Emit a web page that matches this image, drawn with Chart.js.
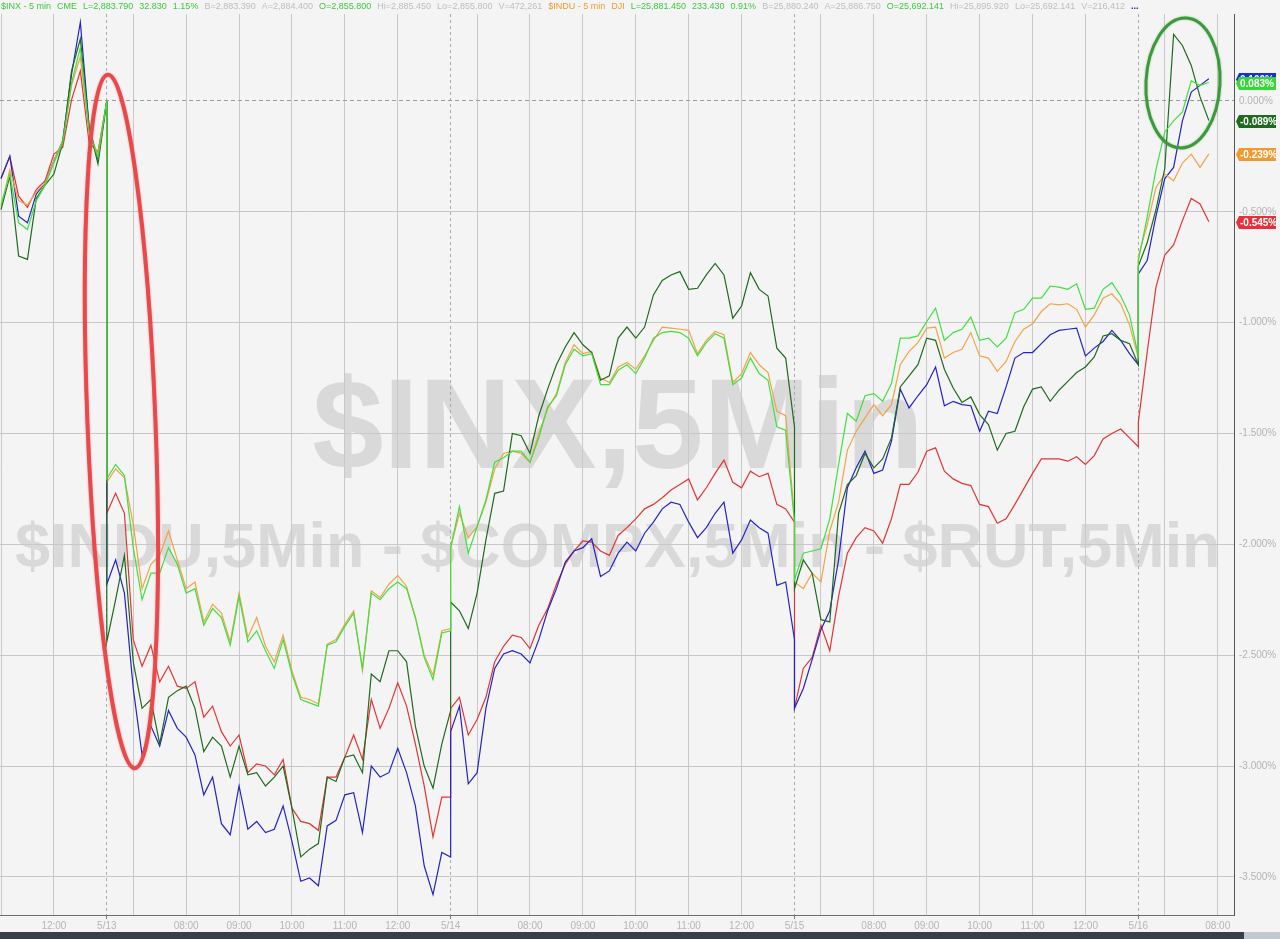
<!DOCTYPE html>
<html>
<head>
<meta charset="utf-8">
<script src="https://cdn.jsdelivr.net/npm/chart.js@4.4.1/dist/chart.umd.min.js"></script>
<style>
  html, body { margin: 0; padding: 0; background: #f4f4f4; }
  #wrap { position: relative; width: 1280px; height: 939px; overflow: hidden; background: #f4f4f4; }
  #chartBox { position: absolute; left: 0; top: 0; width: 1280px; height: 932px; }
  #header { position: absolute; left: 1px; top: 1px; z-index: 2; white-space: nowrap;
            font: 9px "Liberation Sans", Arial, sans-serif; line-height: 10px; }
  #header span { margin-right: 6px; }
  .g { color: #3cc83c; } .gr { color: #bdbdbd; } .o { color: #ef9a2c; } .nv { color: #1d2b8c; font-weight: bold; }
  #scroll { position: absolute; left: 0; top: 932px; width: 1244px; height: 7px; background: #3a3e47; }
  #scroll2 { position: absolute; left: 1244px; top: 932px; width: 36px; height: 7px; background: #c3c7ce; }
</style>
</head>
<body>
<div id="wrap">
  <div id="header">
    <span class="g">$INX - 5 min</span><span class="g">CME</span><span class="g">L=2,883.790</span><span class="g">32.830</span><span class="g">1.15%</span><span class="gr">B=2,883.390</span><span class="gr">A=2,884.400</span><span class="g">O=2,855.800</span><span class="gr">Hi=2,885.450</span><span class="gr">Lo=2,855.800</span><span class="gr">V=472,261</span><span class="o">$INDU - 5 min</span><span class="o">DJI</span><span class="g">L=25,881.450</span><span class="g">233.430</span><span class="g">0.91%</span><span class="gr">B=25,880.240</span><span class="gr">A=25,886.750</span><span class="g">O=25,692.141</span><span class="gr">Hi=25,895.920</span><span class="gr">Lo=25,692.141</span><span class="gr">V=216,412</span><span class="nv">...</span>
  </div>
  <div id="chartBox"><canvas id="chart"></canvas></div>
  <div id="scroll"></div><div id="scroll2"></div>
</div>
<script>
// trading sessions shown (day, first bar, last bar), sampled every 10 minutes
const sessions = [
  ['5/10', '11:00', '13:00'],
  ['5/13', '06:30', '13:00'],
  ['5/14', '06:30', '13:00'],
  ['5/15', '06:30', '13:00'],
  ['5/16', '06:30', '07:50']
];
const hourLabels = ['07:00', '08:00', '09:00', '10:00', '11:00', '12:00'];
const yTicks = [-3.5, -3, -2.5, -2, -1.5, -1, -0.5, 0];

// % change vs 5/10 close
const inx = [
  -0.47, -0.33, -0.55, -0.58, -0.45, -0.38, -0.28, -0.19, 0.08, 0.24, -0.14, -0.255, 0,
  -1.705, -1.64, -1.69, -2.015, -2.25, -2.13, -2.13, -2.015, -2.09, -2.22, -2.20, -2.365, -2.29, -2.33, -2.455, -2.235, -2.44, -2.39, -2.48, -2.56,
  -2.43, -2.585, -2.70, -2.715, -2.73, -2.455, -2.44, -2.37, -2.31, -2.56, -2.22, -2.25, -2.20, -2.17, -2.20, -2.33, -2.51, -2.61, -2.40, -2.39,
  -2.015, -1.83, -2.04, -1.92, -1.80, -1.63, -1.61, -1.58, -1.58, -1.63, -1.52, -1.38, -1.33, -1.19, -1.12, -1.15, -1.14, -1.28, -1.28, -1.215,
  -1.19, -1.23, -1.16, -1.07, -1.045, -1.04, -1.045, -1.07, -1.15, -1.09, -1.05, -1.07, -1.28, -1.25, -1.16, -1.23, -1.26, -1.47, -1.485, -1.90,
  -2.16, -2.04, -2.03, -2.02, -1.885, -1.64, -1.41, -1.445, -1.33, -1.32, -1.355, -1.275, -1.07, -1.07, -1.06, -0.995, -0.935, -1.08, -1.045, -1.03,
  -0.975, -1.08, -1.07, -1.11, -1.07, -0.955, -0.94, -0.89, -0.89, -0.835, -0.84, -0.85, -0.825, -0.94, -0.935, -0.85, -0.82, -0.88, -0.965, -1.15,
  -0.72, -0.525, -0.31, -0.14, -0.09, -0.05, 0.09, 0.07, 0.083
];
const indu = [
  -0.48, -0.31, -0.45, -0.47, -0.41, -0.37, -0.27, -0.18, 0.07, 0.20, -0.15, -0.24, 0,
  -1.72, -1.66, -1.70, -1.91, -2.20, -2.09, -2.05, -1.94, -2.07, -2.20, -2.17, -2.35, -2.27, -2.31, -2.44, -2.22, -2.42, -2.33, -2.46, -2.53,
  -2.41, -2.57, -2.69, -2.70, -2.72, -2.45, -2.43, -2.36, -2.30, -2.57, -2.21, -2.24, -2.18, -2.14, -2.19, -2.33, -2.50, -2.59, -2.39, -2.38,
  -2.015, -1.86, -1.97, -1.92, -1.81, -1.66, -1.59, -1.58, -1.59, -1.63, -1.50, -1.39, -1.32, -1.18, -1.10, -1.14, -1.13, -1.25, -1.27, -1.20,
  -1.18, -1.21, -1.15, -1.08, -1.02, -1.025, -1.03, -1.035, -1.14, -1.08, -1.04, -1.055, -1.27, -1.23, -1.135, -1.19, -1.225, -1.40, -1.42, -1.88,
  -2.17, -2.20, -2.13, -2.17, -1.94, -1.81, -1.575, -1.49, -1.43, -1.37, -1.42, -1.37, -1.19, -1.13, -1.09, -1.025, -1.02, -1.16, -1.135, -1.12,
  -1.045, -1.15, -1.16, -1.22, -1.175, -1.085, -1.03, -1.005, -0.95, -0.915, -0.92, -0.915, -0.94, -1.02, -0.965, -0.89, -0.87, -0.915, -1.01, -1.16,
  -0.70, -0.56, -0.39, -0.33, -0.36, -0.28, -0.24, -0.30, -0.239
];
const compx = [
  -0.35, -0.25, -0.52, -0.55, -0.42, -0.37, -0.27, -0.18, 0.12, 0.355, -0.12, -0.265, 0,
  -2.18, -2.07, -2.22, -2.65, -2.95, -2.82, -2.91, -2.75, -2.83, -2.87, -2.95, -3.13, -3.05, -3.26, -3.31, -3.09, -3.285, -3.25, -3.30, -3.285,
  -3.18, -3.34, -3.52, -3.505, -3.54, -3.27, -3.245, -3.13, -3.12, -3.30, -3.00, -3.05, -3.03, -2.92, -3.03, -3.18, -3.45, -3.58, -3.39, -3.41,
  -2.845, -2.73, -3.08, -3.03, -2.74, -2.56, -2.495, -2.48, -2.495, -2.535, -2.43, -2.30, -2.20, -2.08, -2.03, -2.015, -1.975, -2.145, -2.12, -2.04,
  -1.99, -2.03, -1.95, -1.90, -1.84, -1.81, -1.82, -1.90, -1.97, -1.925, -1.86, -1.81, -2.04, -1.98, -1.89, -1.925, -1.95, -2.185, -2.17, -2.43,
  -2.74, -2.65, -2.52, -2.385, -2.30, -2.07, -1.745, -1.655, -1.58, -1.68, -1.665, -1.535, -1.30, -1.385, -1.33, -1.28, -1.20, -1.375, -1.355, -1.37,
  -1.375, -1.49, -1.40, -1.41, -1.29, -1.16, -1.135, -1.135, -1.095, -1.055, -1.035, -1.03, -1.025, -1.15, -1.115, -1.085, -1.035, -1.08, -1.14, -1.19,
  -0.78, -0.72, -0.52, -0.35, -0.30, -0.09, 0.04, 0.07, 0.10
];
const rut = [
  -0.35, -0.25, -0.43, -0.48, -0.40, -0.36, -0.24, -0.21, 0.005, 0.135, -0.19, -0.23, 0,
  -1.86, -1.77, -1.86, -2.43, -2.55, -2.455, -2.62, -2.55, -2.64, -2.65, -2.62, -2.78, -2.73, -2.845, -2.91, -2.86, -3.03, -2.99, -3.00, -3.04,
  -2.97, -3.19, -3.25, -3.26, -3.29, -3.05, -3.05, -2.96, -2.86, -2.97, -2.70, -2.83, -2.74, -2.625, -2.73, -2.90, -3.09, -3.32, -3.14, -3.14,
  -2.74, -2.69, -2.86, -2.79, -2.69, -2.53, -2.46, -2.41, -2.42, -2.47, -2.365, -2.29, -2.18, -2.09, -2.03, -1.985, -1.99, -2.03, -2.05, -1.96,
  -1.925, -1.885, -1.84, -1.82, -1.79, -1.755, -1.73, -1.705, -1.80, -1.745, -1.68, -1.62, -1.72, -1.745, -1.67, -1.695, -1.68, -1.82, -1.84, -1.90,
  -2.74, -2.56, -2.51, -2.365, -2.48, -2.235, -2.04, -1.97, -1.925, -1.94, -1.995, -1.885, -1.73, -1.73, -1.675, -1.58, -1.565, -1.67, -1.705, -1.725,
  -1.735, -1.82, -1.83, -1.905, -1.885, -1.82, -1.75, -1.68, -1.615, -1.615, -1.615, -1.625, -1.605, -1.64, -1.60, -1.525, -1.50, -1.48, -1.52, -1.56,
  -1.45, -1.135, -0.84, -0.695, -0.65, -0.54, -0.44, -0.465, -0.545
];
const darkGreen = [
  -0.49, -0.34, -0.70, -0.715, -0.44, -0.38, -0.33, -0.19, 0.135, 0.28, -0.12, -0.285, 0,
  -2.44, -2.25, -2.05, -2.53, -2.74, -2.70, -2.90, -2.69, -2.66, -2.64, -2.74, -2.935, -2.87, -2.91, -3.05, -2.91, -3.04, -3.03, -3.09, -3.05,
  -3.00, -3.19, -3.41, -3.375, -3.35, -3.05, -3.07, -2.96, -2.95, -3.03, -2.585, -2.62, -2.48, -2.48, -2.53, -2.82, -3.00, -3.10, -2.90, -2.75,
  -2.26, -2.30, -2.38, -2.22, -1.98, -1.77, -1.76, -1.50, -1.51, -1.59, -1.42, -1.30, -1.19, -1.11, -1.045, -1.10, -1.135, -1.26, -1.24, -1.07,
  -1.02, -1.07, -1.02, -0.875, -0.81, -0.785, -0.77, -0.85, -0.845, -0.785, -0.733, -0.785, -0.98, -0.925, -0.775, -0.85, -0.88, -1.115, -1.16, -1.47,
  -2.20, -2.07, -2.13, -2.34, -2.35, -1.86, -1.73, -1.69, -1.59, -1.655, -1.615, -1.52, -1.29, -1.24, -1.19, -1.07, -1.08, -1.21, -1.295, -1.36,
  -1.335, -1.415, -1.46, -1.575, -1.50, -1.49, -1.38, -1.30, -1.29, -1.355, -1.305, -1.265, -1.225, -1.20, -1.155, -1.06, -1.05, -1.08, -1.095, -1.19,
  -0.745, -0.64, -0.49, -0.305, 0.30, 0.25, 0.16, 0.018, -0.089
];

const FONT = '"Liberation Sans", Arial, sans-serif';
const OPEN = 390, SESSION = 390, STEP = 10;
function toMin(t) { const [h, m] = t.split(':').map(Number); return h * 60 + m; }

// position of each sample on a trading-time axis (minutes, sessions glued together)
const times = [];
sessions.forEach(([day, from, to], d) => {
  for (let t = toMin(from); t <= toMin(to); t += STEP) times.push(d * SESSION + t - OPEN);
});

const xTicks = [];
sessions.forEach(([day], d) => {
  xTicks.push({ value: d * SESSION, label: day, date: true });
  hourLabels.forEach(h => xTicks.push({ value: d * SESSION + toMin(h) - OPEN, label: h === '07:00' ? '' : h }));
});

const series = [
  { name: '$INX', data: inx, color: '#3fdf3f' },
  { name: 'DG', data: darkGreen, color: '#1f6a1f' },
  { name: '$INDU', data: indu, color: '#f2a247' },
  { name: '$COMPX', data: compx, color: '#2323c4' },
  { name: '$RUT', data: rut, color: '#e03535' }
];
const tagOrder = ['$COMPX', '$INX', 'DG', '$INDU', '$RUT'];
const tagColors = { '$COMPX': '#1b2fd2', '$INX': '#35d935', 'DG': '#1d6b1d', '$INDU': '#f2992e', '$RUT': '#e8303a' };

const X_MIN = 268.9, X_MAX = 1668.5;

const backdrop = {
  id: 'backdrop',
  beforeDraw(chart) {
    const { ctx, width, height } = chart;
    ctx.save();
    ctx.fillStyle = '#f4f4f4';
    ctx.fillRect(0, 0, width, height);
    ctx.fillStyle = '#d9d9d9';
    ctx.textBaseline = 'alphabetic';
    ctx.textAlign = 'center';
    ctx.font = 'bold 128px ' + FONT;
    ctx.fillText('$INX,5Min', 618, 468);
    const t2 = '$INDU,5Min - $COMPX,5Min - $RUT,5Min';
    ctx.font = 'bold 100px ' + FONT;
    const size = 100 * 1205 / ctx.measureText(t2).width;
    ctx.font = 'bold ' + size.toFixed(1) + 'px ' + FONT;
    ctx.textAlign = 'left';
    ctx.fillText(t2, 15, 567);
    ctx.restore();
  }
};

const overlay = {
  id: 'overlay',
  afterDatasetsDraw(chart) {
    const { ctx, chartArea, scales: { x, y } } = chart;
    ctx.save();
    // red ellipse around the 5/13 open
    ctx.lineWidth = 4;
    ctx.strokeStyle = '#e8494b';
    ctx.shadowColor = 'rgba(232,73,75,0.5)';
    ctx.shadowBlur = 2;
    ctx.beginPath();
    ctx.ellipse(x.getPixelForValue(406.6), y.getPixelForValue(-1.446), 34, 347, -0.039, 0, Math.PI * 2);
    ctx.stroke();
    // green ellipse around the 5/16 spike
    ctx.lineWidth = 3;
    ctx.strokeStyle = '#3c9a3c';
    ctx.shadowColor = 'rgba(60,154,60,0.5)';
    ctx.beginPath();
    ctx.ellipse(x.getPixelForValue(1610.6), y.getPixelForValue(0.081), 37, 65, 0.05, 0, Math.PI * 2);
    ctx.stroke();
    ctx.restore();

    // last-value tags on the right axis
    ctx.save();
    ctx.font = 'bold 10px ' + FONT;
    ctx.textBaseline = 'middle';
    const x0 = chartArea.right + 2, x1 = chartArea.right + 42, h = 6.5;
    tagOrder.forEach(name => {
      const s = series.find(q => q.name === name);
      const v = s.data[s.data.length - 1];
      const py = Math.round(y.getPixelForValue(v)) + 0.5;
      ctx.fillStyle = tagColors[name];
      ctx.beginPath();
      ctx.moveTo(x0, py);
      ctx.lineTo(x0 + 3, py - h);
      ctx.lineTo(x1, py - h);
      ctx.lineTo(x1, py + h);
      ctx.lineTo(x0 + 3, py + h);
      ctx.closePath();
      ctx.fill();
      ctx.fillStyle = '#ffffff';
      ctx.fillText(v.toFixed(3) + '%', x0 + 4, py + 0.5);
    });
    ctx.restore();
  }
};

new Chart(document.getElementById('chart'), {
  type: 'line',
  data: {
    datasets: series.map(s => ({
      label: s.name,
      data: times.map((m, i) => ({ x: m, y: s.data[i] })),
      borderColor: s.color,
      borderWidth: 1.2,
      pointRadius: 0,
      tension: 0,
      fill: false
    }))
  },
  options: {
    responsive: true,
    maintainAspectRatio: false,
    animation: false,
    events: [],
    layout: { padding: { top: 14, left: 0, right: 0, bottom: 0 } },
    plugins: { legend: { display: false }, tooltip: { enabled: false } },
    scales: {
      x: {
        type: 'linear',
        min: X_MIN,
        max: X_MAX,
        afterBuildTicks: scale => {
          scale.ticks = xTicks.filter(t => t.value >= X_MIN && t.value <= X_MAX).map(t => ({ ...t }));
        },
        afterFit: scale => { scale.height = 17; },
        ticks: {
          autoSkip: false,
          maxRotation: 0,
          padding: 1,
          color: '#b5b5b5',
          font: { size: 10, family: FONT },
          callback: function (value, index, ticks) {
            const t = ticks[index];
            if (value - X_MIN < 20) return '';
            return t.label;
          }
        },
        grid: {
          color: ctx => (ctx.tick && ctx.tick.date) ? '#a9a9a9' : '#c8c8c8',
          lineWidth: 1,
          drawTicks: true,
          tickLength: 4,
          tickColor: ctx => (ctx.tick && ctx.tick.date) ? '#777777' : 'rgba(0,0,0,0)'
        },
        border: {
          color: '#6e6e6e',
          dash: ctx => (ctx.tick && ctx.tick.date) ? [3, 3] : []
        }
      },
      y: {
        position: 'right',
        min: -3.672,
        max: 0.392,
        afterBuildTicks: scale => { scale.ticks = yTicks.map(v => ({ value: v })); },
        afterFit: scale => { scale.width = 46; },
        ticks: {
          padding: 5,
          color: '#b3b3b3',
          font: { size: 10, family: FONT },
          callback: v => v.toFixed(3) + '%'
        },
        grid: {
          drawTicks: false,
          color: ctx => (ctx.tick && ctx.tick.value === 0) ? '#9a9a9a' : '#c8c8c8'
        },
        border: {
          color: '#555555',
          dash: ctx => (ctx.tick && ctx.tick.value === 0) ? [4, 3] : []
        }
      }
    }
  },
  plugins: [backdrop, overlay]
});
</script>
</body>
</html>
